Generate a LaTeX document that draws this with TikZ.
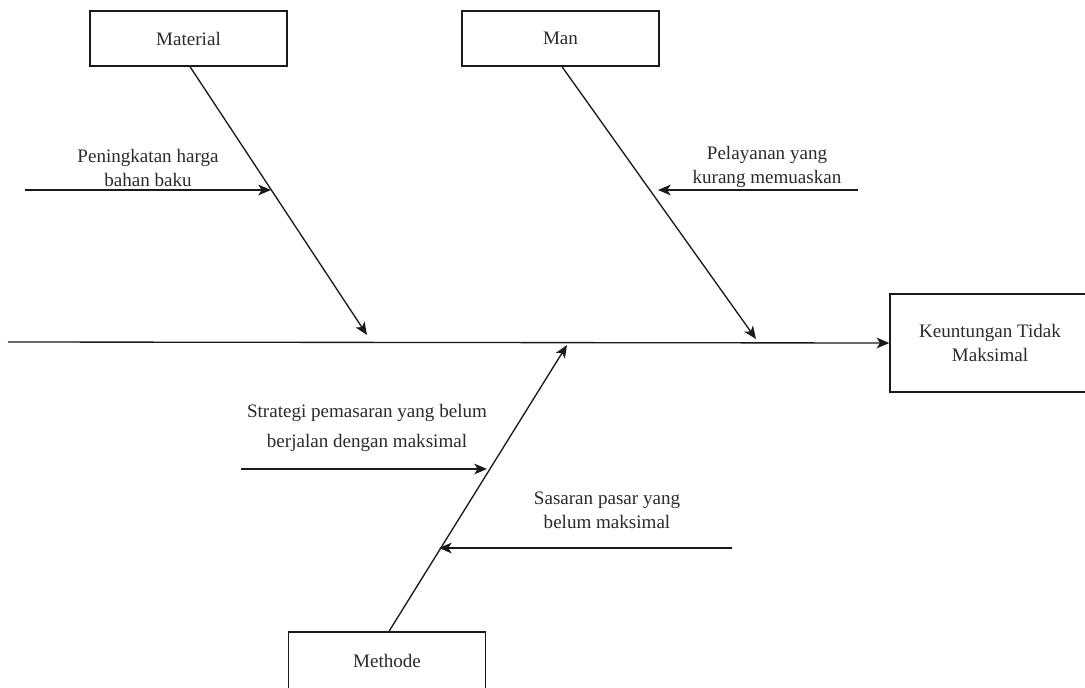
\documentclass[tikz,border=0pt]{standalone}
\usepackage{fontspec}
\setmainfont{Liberation Serif}
\usetikzlibrary{arrows.meta}
\definecolor{ink}{HTML}{1A1A1A}
\definecolor{txt}{HTML}{2B2B2B}
\begin{document}
\begin{tikzpicture}[x=0.75pt,y=-0.75pt,
  box/.style={draw=ink,line width=1pt,fill=white,minimum width=147.75pt,minimum height=41.25pt,inner sep=0pt,
    font=\fontsize{14.3pt}{18pt}\selectfont,text=txt},
  lbl/.style={align=center,inner sep=0pt,font=\fontsize{14.3pt}{18pt}\selectfont,text=txt},
  conn/.style={draw=ink,line width=1pt},
  arr/.style={conn,-{Stealth[length=9.5pt,width=8pt,inset=2.5pt]}}]
\useasboundingbox (0,0) rectangle (1085,688);
\fill[white] (0,0) rectangle (1085,688);
% boxes
\node[box] (mat) at (188.5,38.5) {Material};
\node[box] (man) at (560.5,38.5) {Man};
\node[box,minimum height=43.5pt] (met) at (387,661) {Methode};
\node[box,minimum width=150pt,minimum height=73.5pt,align=center] (keu) at (990,343) {Keuntungan Tidak\\Maksimal};
% spine
\coordinate (s0) at (8,342);
\draw[arr] (s0) -- (keu.west);
% bones
\coordinate (mE) at (367,335);
\coordinate (nE) at (756,339);
\coordinate (tE) at (567,345);
\draw[arr] (mat.south) ++(1.5,0) coordinate (mS) (mS) -- (mE);
\draw[arr] (man.south) ++(1.5,0) coordinate (nS) (nS) -- (nE);
\draw[arr] (met.north) ++(2,0) coordinate (tS) (tS) -- (tE);
% causes
\node[lbl] (c1) at (148,168) {Peningkatan harga\\bahan baku};
\coordinate (c1a) at (25,190);
\coordinate (c1b) at (271,190);
\draw[arr] (c1a) -- (c1b);
\node[lbl] (c2) at (767,167) {Pelayanan yang\\kurang memuaskan};
\coordinate (c2a) at (858,190);
\coordinate (c2b) at (658,190);
\draw[arr] (c2a) -- (c2b);
\node[lbl,font=\fontsize{14.3pt}{22.5pt}\selectfont] (c3) at (367,428) {Strategi pemasaran yang belum\\berjalan dengan maksimal};
\coordinate (c3a) at (241,469);
\coordinate (c3b) at (487,469);
\draw[arr] (c3a) -- (c3b);
\node[lbl] (c4) at (607,510) {Sasaran pasar yang\\belum maksimal};
\coordinate (c4a) at (732,548);
\coordinate (c4b) at (439,548);
\draw[arr] (c4a) -- (c4b);
\end{tikzpicture}
\end{document}
